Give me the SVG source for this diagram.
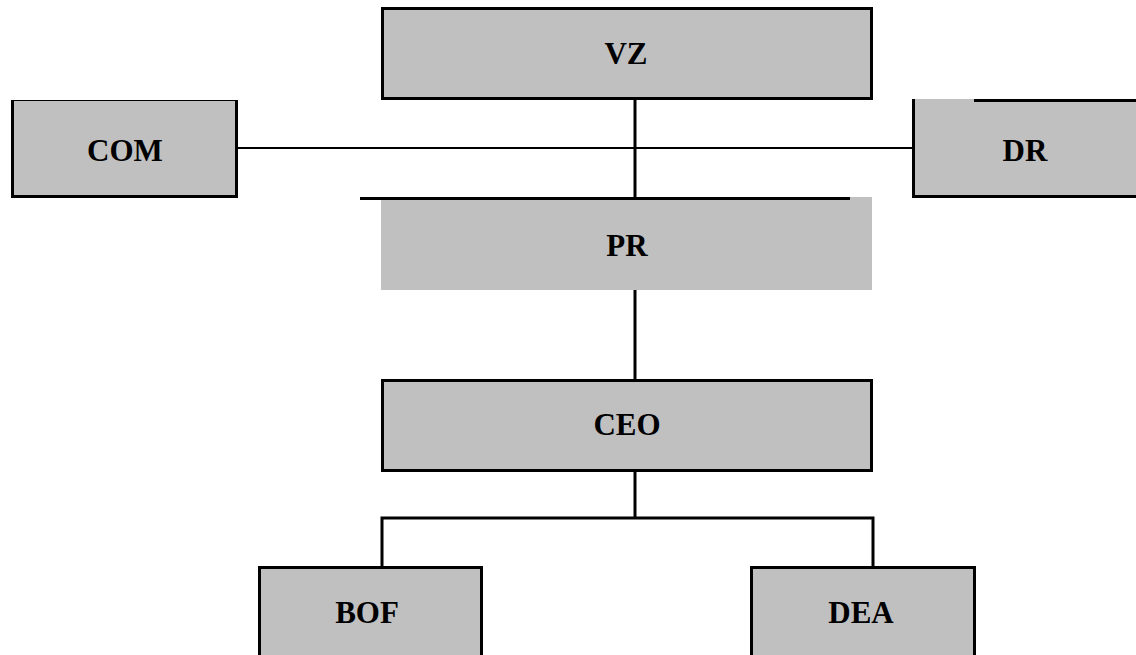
<svg xmlns="http://www.w3.org/2000/svg" width="1136" height="655" viewBox="0 0 1136 655">
<style>
.fill{fill:#c0c0c0;stroke:none}
.bd{stroke:#000;stroke-width:3;fill:none}
.ln{stroke:#000;stroke-width:3;fill:none}
.lbl{font-family:"Liberation Serif","Times New Roman",serif;font-weight:bold;font-size:31px;fill:#000;text-anchor:middle}
</style>
<rect width="1136" height="655" fill="#fff"/>
<g id="connectors">
<line class="ln" x1="635" y1="100" x2="635" y2="198"/>
<line class="ln" x1="238" y1="148" x2="912" y2="148" style="stroke-width:2"/>
<line class="ln" x1="635" y1="290" x2="635" y2="379"/>
<polyline class="ln" points="635,472 635,518"/>
<polyline class="ln" points="382,566 382,518 873,518 873,566"/>
</g>
<g id="node-vz">
<rect class="fill" x="381" y="7" width="492" height="93"/>
<rect class="bd" x="382.5" y="8.5" width="489" height="90"/>
<text class="lbl" x="626" y="64">VZ</text>
</g>
<g id="node-com">
<rect class="fill" x="11" y="100" width="227" height="98"/>
<line class="bd" x1="12.5" y1="100" x2="12.5" y2="198"/>
<line class="bd" x1="236.5" y1="100" x2="236.5" y2="198"/>
<line class="bd" x1="11" y1="196.5" x2="238" y2="196.5"/>
<line x1="11" y1="100.5" x2="238" y2="100.5" stroke="#000" stroke-width="1"/>
<text class="lbl" x="125" y="161">COM</text>
</g>
<g id="node-dr">
<rect class="fill" x="912" y="99" width="224" height="99"/>
<line class="bd" x1="913.5" y1="99" x2="913.5" y2="198"/>
<line class="bd" x1="912" y1="196.5" x2="1136" y2="196.5"/>
<line class="bd" x1="974" y1="100.5" x2="1136" y2="100.5"/>
<text class="lbl" x="1025" y="161">DR</text>
</g>
<g id="node-pr">
<rect class="fill" x="381" y="197" width="491" height="93"/>
<line class="bd" x1="360" y1="198.5" x2="850" y2="198.5"/>
<text class="lbl" x="627" y="256">PR</text>
</g>
<g id="node-ceo">
<rect class="fill" x="381" y="379" width="492" height="93"/>
<rect class="bd" x="382.5" y="380.5" width="489" height="90"/>
<text class="lbl" x="627" y="435">CEO</text>
</g>
<g id="node-bof">
<rect class="fill" x="258" y="566" width="225" height="89"/>
<polyline class="bd" points="259.5,655 259.5,567.5 481.5,567.5 481.5,655"/>
<text class="lbl" x="367" y="623">BOF</text>
</g>
<g id="node-dea">
<rect class="fill" x="750" y="566" width="226" height="89"/>
<polyline class="bd" points="751.5,655 751.5,567.5 974.5,567.5 974.5,655"/>
<text class="lbl" x="861" y="623">DEA</text>
</g>
</svg>
